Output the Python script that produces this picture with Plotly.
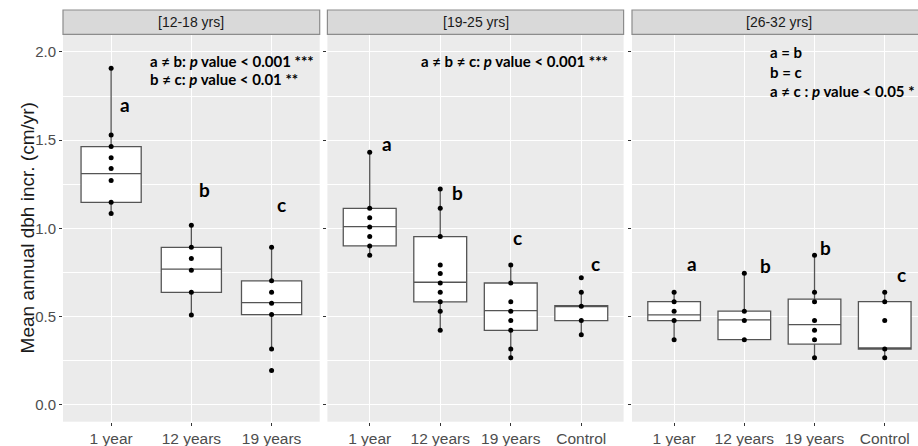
import plotly.graph_objects as go

W, H = 918, 446

# ---------------- data ----------------
panel_titles = ["[12-18 yrs]", "[19-25 yrs]", "[26-32 yrs]"]
cats_p1 = ["1 year", "12 years", "19 years"]
cats_p23 = ["1 year", "12 years", "19 years", "Control"]

# individual observations
pts_p1 = [
    [1.907, 1.530, 1.464, 1.401, 1.339, 1.271, 1.148, 1.084],
    [1.018, 0.893, 0.829, 0.763, 0.638, 0.510],
    [0.893, 0.703, 0.638, 0.576, 0.512, 0.317, 0.195],
]
pts_p2 = [
    [1.432, 1.114, 1.061, 1.008, 0.954, 0.901, 0.848],
    [1.224, 1.114, 0.954, 0.793, 0.744, 0.691, 0.638, 0.584, 0.531, 0.423],
    [0.793, 0.691, 0.584, 0.531, 0.478, 0.423, 0.317, 0.268],
    [0.720, 0.638, 0.559, 0.478, 0.397],
]
pts_p3 = [
    [0.638, 0.585, 0.531, 0.478, 0.370],
    [0.746, 0.531, 0.478, 0.370],
    [0.848, 0.638, 0.585, 0.478, 0.423, 0.370, 0.268],
    [0.638, 0.585, 0.478, 0.317, 0.268],
]

# box statistics (q1, median, q3, lower whisker, upper whisker)
q1_p1 = [1.148, 0.638, 0.512]
med_p1 = [1.311, 0.769, 0.580]
q3_p1 = [1.464, 0.893, 0.703]
lo_p1 = [1.084, 0.510, 0.317]
hi_p1 = [1.907, 1.018, 0.893]

q1_p2 = [0.901, 0.584, 0.423, 0.478]
med_p2 = [1.010, 0.695, 0.534, 0.559]
q3_p2 = [1.114, 0.954, 0.691, 0.563]
lo_p2 = [0.848, 0.423, 0.268, 0.397]
hi_p2 = [1.432, 1.224, 0.793, 0.638]

q1_p3 = [0.478, 0.370, 0.344, 0.317]
med_p3 = [0.510, 0.482, 0.455, 0.321]
q3_p3 = [0.585, 0.531, 0.599, 0.585]
lo_p3 = [0.370, 0.370, 0.268, 0.268]
hi_p3 = [0.638, 0.746, 0.848, 0.638]

# significance letters
letters_p1 = ["a", "b", "c"]
letters_y_p1 = [1.705, 1.218, 1.133]
letters_p2 = ["a", "b", "c", "c"]
letters_y_p2 = [1.482, 1.203, 0.950, 0.803]
letters_p3 = ["a", "b", "b", "c"]
letters_y_p3 = [0.803, 0.789, 0.893, 0.740]

stats_p1 = ["a ≠ b: <i>p</i> value < 0.001 ***", "b ≠ c: <i>p</i> value < 0.01 **"]
stats_p2 = ["a ≠ b ≠ c: <i>p</i> value < 0.001 ***"]
stats_p3 = ["a = b", "b = c", "a ≠ c : <i>p</i> value < 0.05 *"]

y_ticks = [0.0, 0.5, 1.0, 1.5, 2.0]
y_ticktext = ["0.0", "0.5", "1.0", "1.5", "2.0"]
y_minor = [0.25, 0.75, 1.25, 1.75]
y_title = "Mean annual dbh incr. (cm/yr)"

# ---------------- layout geometry (pixels) ----------------
panel_top, panel_bot = 35.0, 421.7
strip_top, strip_bot = 10.0, 34.3
panels_px = [(63.0, 319.7), (327.4, 623.6), (632.0, 918.0)]
xranges = [[-0.6, 2.6], [-0.6, 3.6], [-0.6, 3.474]]
letter_dx = [[0.17, 0.16, 0.125], [0.245, 0.24, 0.09, 0.2], [0.26, 0.30, 0.157, 0.24]]

def px(x):
    return x / W

def py(y):
    return 1 - y / H

fig = go.Figure()

all_cats = [cats_p1, cats_p23, cats_p23]
all_pts = [pts_p1, pts_p2, pts_p3]
all_q1 = [q1_p1, q1_p2, q1_p3]
all_med = [med_p1, med_p2, med_p3]
all_q3 = [q3_p1, q3_p2, q3_p3]
all_lo = [lo_p1, lo_p2, lo_p3]
all_hi = [hi_p1, hi_p2, hi_p3]
all_letters = [letters_p1, letters_p2, letters_p3]
all_letters_y = [letters_y_p1, letters_y_p2, letters_y_p3]

box_line = "#555555"
for i in range(3):
    xa = "x" if i == 0 else f"x{i+1}"
    ya = "y" if i == 0 else f"y{i+1}"
    cats = all_cats[i]
    fig.add_trace(go.Box(
        x=cats, q1=all_q1[i], median=all_med[i], q3=all_q3[i],
        lowerfence=all_lo[i], upperfence=all_hi[i],
        width=0.75, whiskerwidth=0, boxpoints=False,
        fillcolor="white", line=dict(color=box_line, width=1.3),
        xaxis=xa, yaxis=ya, showlegend=False, hoverinfo="skip",
    ))
    xs, ys = [], []
    for c, vals in zip(cats, all_pts[i]):
        xs += [c] * len(vals)
        ys += vals
    fig.add_trace(go.Scatter(
        x=xs, y=ys, mode="markers",
        marker=dict(color="black", size=5),
        xaxis=xa, yaxis=ya, showlegend=False, hoverinfo="skip",
    ))

layout = dict(
    width=W, height=H, autosize=False,
    margin=dict(l=0, r=0, t=0, b=0),
    paper_bgcolor="white", plot_bgcolor="#ebebeb",
    showlegend=False,
)

ydom = [py(panel_bot), py(panel_top)]
for i in range(3):
    xk = "xaxis" if i == 0 else f"xaxis{i+1}"
    yk = "yaxis" if i == 0 else f"yaxis{i+1}"
    layout[xk] = dict(
        domain=[px(panels_px[i][0]), px(panels_px[i][1])],
        anchor="y" if i == 0 else f"y{i+1}",
        type="category", categoryorder="array", categoryarray=all_cats[i],
        range=xranges[i], showgrid=True, gridcolor="white", gridwidth=1.2,
        zeroline=False, showline=False,
        ticks="outside", ticklen=3, tickcolor="#333333", tickwidth=1,
        tickfont=dict(family="Liberation Sans, Arial", size=15.5, color="#4d4d4d"),
        fixedrange=True,
    )
    layout[yk] = dict(
        domain=ydom, anchor="x" if i == 0 else f"x{i+1}",
        range=[-0.095, 2.096], tickvals=y_ticks, ticktext=y_ticktext,
        showticklabels=(i == 0),
        showgrid=True, gridcolor="white", gridwidth=1.2,
        minor=dict(tickvals=y_minor, showgrid=True, gridcolor="white", gridwidth=0.6),
        zeroline=False, showline=False,
        ticks="outside", ticklen=3, tickcolor="#333333", tickwidth=1,
        tickfont=dict(family="Liberation Sans, Arial", size=15, color="#4d4d4d"),
        fixedrange=True,
    )
    if i > 0:
        layout[yk]["matches"] = "y"

fig.update_layout(**layout)

shapes = []
annotations = []
for i in range(3):
    x0, x1 = panels_px[i]
    if i == 2:
        x1 = W + 5
    shapes.append(dict(
        type="rect", xref="paper", yref="paper",
        x0=px(x0), x1=px(x1), y0=py(strip_bot), y1=py(strip_top),
        fillcolor="#d9d9d9", line=dict(color="#8c8c8c", width=1.2), layer="above",
    ))
    cx = (panels_px[i][0] + (panels_px[i][1] if i < 2 else 926.8)) / 2
    annotations.append(dict(
        text=panel_titles[i], xref="paper", yref="paper",
        x=px(cx), y=py((strip_top + strip_bot) / 2),
        xanchor="center", yanchor="middle", showarrow=False,
        font=dict(family="Liberation Sans, Arial", size=14, color="#1a1a1a"),
    ))
    xa = "x" if i == 0 else f"x{i+1}"
    ya = "y" if i == 0 else f"y{i+1}"
    for j, (lt, ly) in enumerate(zip(all_letters[i], all_letters_y[i])):
        annotations.append(dict(
            text=f"<b>{lt}</b>", xref=xa, yref=ya, x=j + letter_dx[i][j], y=ly,
            xanchor="center", yanchor="middle", showarrow=False,
            font=dict(family="Lato, Open Sans", size=19, color="black"),
        ))

stat_font = dict(family="Lato, Open Sans", size=15, color="black")
stat_pos = [
    (148.0, [61.0, 78.7]),
    (419.0, [61.0]),
    (768.0, [52.3, 72.0, 91.0]),
]
for (sx, sys_), texts in zip(stat_pos, [stats_p1, stats_p2, stats_p3]):
    for t, sy in zip(texts, sys_):
        annotations.append(dict(
            text=f"<b>{t}</b>", xref="paper", yref="paper",
            x=px(sx), y=py(sy), xanchor="left", yanchor="middle",
            showarrow=False, font=stat_font,
        ))

annotations.append(dict(
    text=y_title, xref="paper", yref="paper", x=px(27), y=py(228.4),
    xanchor="center", yanchor="middle", textangle=-90, showarrow=False,
    font=dict(family="Liberation Sans, Arial", size=19, color="#1a1a1a"),
))

fig.update_layout(shapes=shapes, annotations=annotations)
fig.write_html("out.html")
